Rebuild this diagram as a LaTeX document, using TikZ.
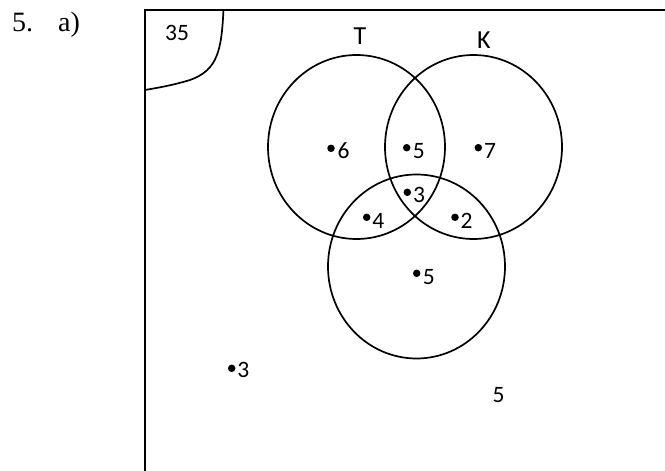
\documentclass[tikz,border=0pt]{standalone}
\usepackage{fontspec}
\setmainfont{Liberation Serif}
\newfontfamily\calfont{Carlito}
\usetikzlibrary{shapes.geometric}
\begin{document}
\begin{tikzpicture}[x=1pt,y=-1pt,
  setc/.style={ellipse,draw,line width=1.7pt,minimum width=177pt,minimum height=184pt,inner sep=0pt},
  framel/.style={line width=2pt},
  dot/.style={circle,fill,inner sep=0pt,minimum size=7.5pt},
  lab/.style={inner sep=0pt,anchor=base west,font=\calfont\fontsize{23.5}{28}\selectfont},
  setname/.style={inner sep=0pt,anchor=base west,font=\calfont\fontsize{26}{31}\selectfont}]
\useasboundingbox (0,0) rectangle (665,471);
% heading
\node[inner sep=0pt,anchor=base west,font=\fontsize{28}{33}\selectfont] (head) at (12,31.7) {5.\hspace{25pt}a)};
% frame
\coordinate (fbl) at (145,471);
\coordinate (ftl) at (145,9.5);
\coordinate (ftr) at (665,9.5);
\draw[framel] (fbl) -- (ftl) -- (ftr);
% corner curve
\coordinate (ca) at (223.5,9.5);
\coordinate (cb) at (190,80);
\coordinate (cc) at (145,90);
\draw[line width=1.7pt] (ca) .. controls (221.5,50) and (218,70) .. (cb) .. controls (170,86) and (156,88) .. (cc);
\node[lab] (n35) at (165,40) {35};
% circles
\node[setc] (T) at (356.5,147) {};
\node[setc] (K) at (473.5,147) {};
\node[setc] (B) at (416.5,266.5) {};
\node[setname] (tT) at (353.5,45) {T};
\node[setname] (tK) at (477,48) {K};
% dots and numbers
\node[dot] (d6) at (331,148.3) {};
\node[lab] (n6) at ([shift={(6.5,10)}]d6) {6};
\node[dot] (d5a) at (406.7,147.7) {};
\node[lab] (n5a) at ([shift={(6,10.3)}]d5a) {5};
\node[dot] (d7) at (478.3,147.7) {};
\node[lab] (n7) at ([shift={(5.5,10.3)}]d7) {7};
\node[dot] (d3a) at (407.3,192.3) {};
\node[lab] (n3a) at ([shift={(5.5,10.4)}]d3a) {3};
\node[dot] (d4) at (366.7,217.3) {};
\node[lab] (n4) at ([shift={(5.5,11)}]d4) {4};
\node[dot] (d2) at (455,217.3) {};
\node[lab] (n2) at ([shift={(5.5,11)}]d2) {2};
\node[dot] (d5b) at (416.7,273.3) {};
\node[lab] (n5b) at ([shift={(6,10.7)}]d5b) {5};
\node[dot] (d3b) at (231.7,368.3) {};
\node[lab] (n3b) at ([shift={(5.5,9.5)}]d3b) {3};
\node[lab] (n5c) at (492.5,402) {5};
\end{tikzpicture}
\end{document}
